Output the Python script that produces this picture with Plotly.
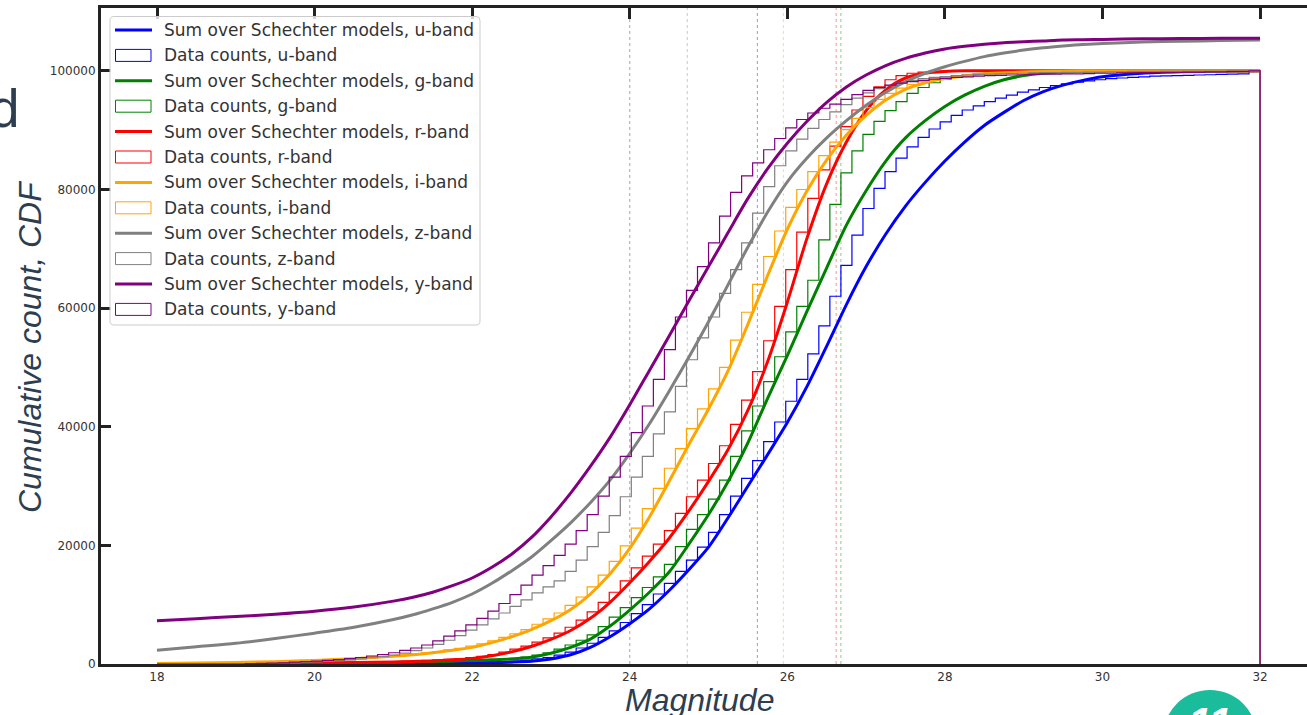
import numpy as np
import plotly.graph_objects as go

# ---------------- data ----------------
bands = ["u", "g", "r", "i", "z", "y"]
band_colors = ["#0000ff", "#008000", "#ff0000", "#ffa500", "#808080", "#800080"]
limit_mags = [25.62, 26.68, 26.62, 25.95, 24.73, 24.0]

mag_grid = [18, 18.5, 19, 19.5, 20, 20.5, 21, 21.25, 21.5, 21.75, 22, 22.25, 22.5, 22.75,
            23, 23.25, 23.5, 23.75, 24, 24.25, 24.5, 24.75, 25, 25.25, 25.5, 25.75, 26,
            26.25, 26.5, 26.75, 27, 27.25, 27.5, 27.75, 28, 28.25, 28.5, 28.75, 29, 29.25,
            29.5, 29.75, 30, 30.5, 31, 31.5, 32]

model_u = [10, 15, 25, 35, 50, 70, 100, 115, 130, 150, 170, 230, 310, 450,
           850, 1550, 2800, 4600, 6800, 9300, 12400, 15900, 19700, 24700, 30000, 35300, 40700,
           46800, 53600, 60600, 67000, 72500, 77200, 81200, 84800, 88000, 90800, 93000, 95000, 96500,
           97600, 98400, 99000, 99600, 99850, 99950, 100000]
model_g = [20, 30, 50, 80, 120, 180, 270, 330, 400, 480, 580, 700, 850, 1150,
           1800, 2800, 4200, 6400, 9100, 12100, 15500, 20200, 25200, 30800, 37300, 44800, 52000,
           59500, 66800, 74000, 79800, 84800, 88700, 91600, 94000, 95900, 97400, 98500, 99200, 99600,
           99800, 99920, 100000, 100000, 100000, 100000, 100000]
model_r = [50, 70, 100, 130, 160, 240, 350, 430, 520, 700, 950, 1400, 2050, 2950,
           4150, 5650, 7700, 10400, 13700, 17300, 21200, 25800, 30800, 36200, 42800, 51000, 61000,
           71800, 81000, 88000, 93300, 96800, 98800, 99600, 99900, 100000, 100000, 100000, 100000, 100000,
           100000, 100000, 100000, 100000, 100000, 100000, 100000]
model_i = [100, 150, 250, 400, 600, 900, 1300, 1550, 1900, 2300, 2800, 3600, 4600, 5800,
           7300, 9200, 11800, 15200, 19500, 24800, 30800, 37000, 43000, 49500, 57300, 65500, 73300,
           79800, 85000, 89200, 92500, 95100, 96900, 98000, 98700, 99150, 99500, 99700, 99800, 99900,
           99950, 100000, 100000, 100000, 100000, 100000, 100000]
model_z = [2300, 2900, 3500, 4300, 5200, 6200, 7500, 8300, 9300, 10400, 11800, 13600, 15700, 18000,
           20800, 23800, 27200, 31000, 35500, 40500, 46000, 51700, 57700, 64000, 70300, 76200, 81300,
           85300, 88700, 91600, 94200, 96400, 98200, 99600, 100700, 101600, 102400, 103000, 103500, 103900,
           104200, 104450, 104600, 104850, 105000, 105100, 105200]
model_y = [7300, 7650, 8000, 8400, 8900, 9600, 10600, 11250, 12100, 13200, 14500, 16300, 18500, 21300,
           24800, 28800, 33300, 38200, 43700, 49500, 55300, 61200, 67000, 72800, 78500, 83500, 87800,
           91500, 94700, 97300, 99300, 100900, 102100, 103000, 103700, 104150, 104500, 104750, 104900, 105050,
           105200, 105250, 105300, 105400, 105450, 105480, 105500]

# cumulative data counts, 100 bins from 18 to 32
hist_u = [0, 0, 0, 0, 0, 0, 0, 0, 0, 0,
          0, 0, 0, 0, 50, 50, 50, 50, 50, 100,
          100, 100, 100, 100, 150, 150, 200, 200, 250, 300,
          350, 400, 500, 650, 850, 1100, 1500, 2000, 2700, 3500,
          4500, 5600, 7000, 8500, 10000, 11800, 13600, 15600, 17500, 19700,
          22200, 25200, 28300, 31300, 34300, 37500, 40800, 44300, 48000, 52300,
          57000, 62000, 67200, 72300, 76800, 80200, 83000, 85300, 87200, 88800,
          90200, 91400, 92500, 93400, 94100, 94800, 95400, 95900, 96400, 96800,
          97200, 97500, 97800, 98100, 98300, 98500, 98700, 98800, 98900, 99000,
          99100, 99150, 99200, 99250, 99300, 99350, 99400, 99450, 99500, 100000]
hist_g = [0, 0, 0, 0, 0, 0, 0, 0, 0, 0,
          0, 50, 50, 100, 100, 150, 150, 200, 200, 250,
          250, 300, 350, 400, 400, 450, 500, 550, 650, 700,
          750, 800, 950, 1150, 1500, 1900, 2500, 3200, 4000, 4900,
          6300, 7900, 9500, 11200, 12900, 14700, 16800, 19800, 22700, 25200,
          27800, 31000, 35000, 39300, 43500, 47600, 51800, 56000, 60300, 64700,
          71500, 77500, 82800, 86500, 89300, 91500, 93300, 94800, 96200, 97200,
          98000, 98600, 99000, 99300, 99500, 99650, 99750, 99850, 99900, 99950,
          100000, 100000, 100000, 100000, 100000, 100000, 100000, 100000, 100000, 100000,
          100000, 100000, 100000, 100000, 100000, 100000, 100000, 100000, 100000, 100000]
hist_r = [0, 0, 0, 0, 0, 0, 0, 0, 0, 50,
          50, 100, 100, 100, 150, 150, 200, 250, 300, 300,
          350, 400, 450, 500, 600, 700, 800, 900, 1100, 1300,
          1600, 2000, 2500, 3000, 3700, 4400, 5200, 6200, 7400, 8800,
          10400, 12100, 14000, 16200, 18200, 20200, 22500, 25400, 28200, 31000,
          33800, 36800, 40400, 44500, 49300, 54500, 60300, 66500, 72800, 78500,
          83300, 87300, 90600, 93400, 95700, 97300, 98500, 99200, 99600, 99800,
          99900, 100000, 100000, 100000, 100000, 100000, 100000, 100000, 100000, 100000,
          100000, 100000, 100000, 100000, 100000, 100000, 100000, 100000, 100000, 100000,
          100000, 100000, 100000, 100000, 100000, 100000, 100000, 100000, 100000, 100000]
hist_i = [0, 0, 0, 0, 0, 100, 100, 100, 200, 200,
          300, 400, 500, 600, 650, 750, 850, 950, 1050, 1150,
          1250, 1400, 1550, 1700, 1900, 2100, 2400, 2650, 3000, 3400,
          3900, 4500, 5100, 5800, 6700, 7600, 8600, 9900, 11300, 13000,
          15000, 17300, 19900, 22900, 26200, 29600, 33000, 36300, 39700, 43000,
          46400, 50000, 54600, 59300, 64000, 68700, 73000, 77000, 80000, 83000,
          85700, 88000, 90100, 92000, 93800, 95200, 96200, 97100, 97700, 98200,
          98600, 98900, 99100, 99300, 99500, 99600, 99700, 99800, 99850, 99900,
          99900, 99950, 100000, 100000, 100000, 100000, 100000, 100000, 100000, 100000,
          100000, 100000, 100000, 100000, 100000, 100000, 100000, 100000, 100000, 100000]
hist_z = [0, 0, 0, 0, 0, 0, 0, 0, 0, 50,
          100, 150, 200, 250, 350, 450, 550, 700, 850, 1050,
          1250, 1500, 1850, 2250, 2700, 3300, 4000, 4800, 5700, 6600,
          7600, 8600, 9700, 10800, 12000, 13000, 14000, 15600, 17500, 19800,
          22200, 25000, 28200, 31500, 35000, 38800, 42500, 46800, 51300, 55000,
          58500, 62500, 66500, 71000, 76000, 80500, 84000, 86500, 88500, 90300,
          91800, 93100, 94300, 95400, 96300, 97000, 97500, 98000, 98400, 98700,
          98900, 99050, 99200, 99300, 99400, 99450, 99500, 99550, 99600, 99650,
          99700, 99700, 99750, 99750, 99800, 99800, 99850, 99850, 99900, 99900,
          99900, 99950, 99950, 99950, 99950, 99950, 99950, 99950, 99950, 100000]
hist_y = [0, 0, 0, 0, 0, 0, 0, 0, 50, 100,
          150, 200, 300, 400, 500, 600, 750, 900, 1100, 1350,
          1600, 1900, 2300, 2700, 3200, 3900, 4700, 5600, 6600, 7700,
          8900, 10200, 11700, 13300, 15000, 16600, 18300, 20200, 22500, 25200,
          28300, 31500, 35000, 39000, 43500, 48000, 53000, 58500, 63000, 67000,
          71000, 75500, 79500, 82300, 84500, 86700, 88600, 90400, 91800, 92900,
          93700, 94400, 95200, 96000, 96700, 97200, 97600, 97950, 98200, 98400,
          98600, 98750, 98900, 99000, 99100, 99200, 99250, 99300, 99350, 99400,
          99450, 99450, 99500, 99500, 99550, 99600, 99600, 99650, 99650, 99700,
          99700, 99750, 99750, 99800, 99800, 99850, 99850, 99900, 99900, 100000]

models = [model_u, model_g, model_r, model_i, model_z, model_y]
hists = [hist_u, hist_g, hist_r, hist_i, hist_z, hist_y]
bin_edges = np.linspace(18, 32, 101)

x_ticks = [18, 20, 22, 24, 26, 28, 30, 32]
y_ticks = [0, 20000, 40000, 60000, 80000, 100000]

# ---------------- layout geometry (pixels) ----------------
W, H = 1307, 715
L, R, T, B = 101, 1307, 8, 664


def xp(px):
    return (px - L) / (R - L)


def yp(py):
    return (B - py) / (B - T)


TITLE_COLOR = "#2c3e50"
TEXT_COLOR = "#333333"
AX_COLOR = "#222222"

fig = go.Figure()

# vertical limit lines
shapes = []
for lim, col in zip(limit_mags, band_colors):
    shapes.append(dict(type="line", xref="x", yref="paper", x0=lim, x1=lim, y0=0, y1=1,
                       line=dict(color=col, width=1, dash="dot"), opacity=0.42, layer="below"))

for b, col, mod, hst in zip(bands, band_colors, models, hists):
    fig.add_trace(go.Scatter(x=mag_grid, y=mod, mode="lines",
                             line=dict(color=col, width=3, shape="spline", smoothing=0.8),
                             showlegend=False, hoverinfo="skip"))
    xs = [bin_edges[0]] + list(bin_edges[:-1]) + [bin_edges[-1], bin_edges[-1]]
    ys = [0] + list(hst) + [hst[-1], 0]
    fig.add_trace(go.Scatter(x=xs, y=ys, mode="lines",
                             line=dict(color=col, width=1.2, shape="hv"),
                             showlegend=False, hoverinfo="skip"))

# dummy trace for the top axis
fig.add_trace(go.Scatter(x=[None], y=[None], xaxis="x2", showlegend=False, hoverinfo="skip"))


# ---------------- manual legend ----------------
def rounded_rect_path(x0, y0, x1, y1, r):
    def P(px, py):
        return f"{xp(px):.5f},{yp(py):.5f}"
    return (f"M {P(x0 + r, y0)} L {P(x1 - r, y0)} Q {P(x1, y0)} {P(x1, y0 + r)} "
            f"L {P(x1, y1 - r)} Q {P(x1, y1)} {P(x1 - r, y1)} L {P(x0 + r, y1)} "
            f"Q {P(x0, y1)} {P(x0, y1 - r)} L {P(x0, y0 + r)} Q {P(x0, y0)} {P(x0 + r, y0)} Z")


shapes.append(dict(type="path", xref="paper", yref="paper",
                   path=rounded_rect_path(110, 16.5, 480, 325, 4),
                   fillcolor="rgba(255,255,255,0.8)", line=dict(color="#cccccc", width=1),
                   layer="above"))

annotations = []
row0, pitch = 30.0, 25.4
k = 0
for b, col in zip(bands, band_colors):
    for kind in ("model", "data"):
        yc = row0 + pitch * k
        if kind == "model":
            shapes.append(dict(type="line", xref="paper", yref="paper",
                               x0=xp(115), x1=xp(152), y0=yp(yc), y1=yp(yc),
                               line=dict(color=col, width=3), layer="above"))
            label = f"Sum over Schechter models, {b}-band"
        else:
            shapes.append(dict(type="rect", xref="paper", yref="paper",
                               x0=xp(115.5), x1=xp(151), y0=yp(yc + 6), y1=yp(yc - 6),
                               line=dict(color=col, width=1), fillcolor="rgba(0,0,0,0)",
                               layer="above"))
            label = f"Data counts, {b}-band"
        annotations.append(dict(text=label, xref="paper", yref="paper", x=xp(162), y=yp(yc),
                                xanchor="left", yanchor="middle", showarrow=False,
                                font=dict(family="DejaVu Sans", size=17, color=TEXT_COLOR)))
        k += 1

# axis titles
annotations.append(dict(text="<i>Cumulative count, CDF</i>", xref="paper", yref="paper",
                        x=xp(30), y=yp(347), xanchor="center", yanchor="middle",
                        textangle=-90, showarrow=False,
                        font=dict(family="Liberation Sans", size=32, color=TITLE_COLOR)))
annotations.append(dict(text="<i>Magnitude</i>", xref="paper", yref="paper",
                        x=xp(699), y=yp(700), xanchor="center", yanchor="middle",
                        showarrow=False,
                        font=dict(family="Liberation Sans", size=32, color=TITLE_COLOR)))
# slide fragments
annotations.append(dict(text="d", xref="paper", yref="paper", x=xp(21), y=yp(109),
                        xanchor="right", yanchor="middle", showarrow=False,
                        font=dict(family="Liberation Sans", size=53, color=TITLE_COLOR)))
shapes.append(dict(type="circle", xref="paper", yref="paper",
                   x0=xp(1163), x1=xp(1257), y0=yp(784), y1=yp(690),
                   fillcolor="#1abc9c", line=dict(width=0), layer="above"))
annotations.append(dict(text="<b><i>11</i></b>", xref="paper", yref="paper", x=xp(1210), y=yp(722),
                        xanchor="center", yanchor="middle", showarrow=False,
                        font=dict(family="Liberation Sans", size=42, color="white")))

tick_font = dict(family="DejaVu Sans", size=12, color=TEXT_COLOR)
xr = [18 - 56 / 78.79, 18 + 1150 / 78.79]

fig.update_layout(
    width=W, height=H,
    margin=dict(l=L, r=W - R, t=T, b=H - B, pad=0),
    paper_bgcolor="white", plot_bgcolor="white",
    showlegend=False,
    shapes=shapes, annotations=annotations,
    xaxis=dict(range=xr, tickvals=x_ticks, ticktext=[str(v) for v in x_ticks],
               showline=True, linewidth=3, linecolor=AX_COLOR, ticks="",
               showgrid=False, zeroline=False, tickfont=tick_font, fixedrange=True),
    xaxis2=dict(range=xr, overlaying="x", side="top", tickvals=x_ticks,
                showline=True, linewidth=3, linecolor=AX_COLOR, ticks="inside",
                ticklen=11, tickwidth=3, tickcolor=AX_COLOR, showticklabels=False,
                showgrid=False, zeroline=False),
    yaxis=dict(range=[0, 110600], tickvals=y_ticks, ticktext=[str(v) for v in y_ticks],
               showline=True, linewidth=3, linecolor=AX_COLOR, ticks="inside",
               ticklen=10, tickwidth=3, tickcolor=AX_COLOR,
               showgrid=False, zeroline=False, tickfont=tick_font),
)

fig.write_html("out.html", config={"displayModeBar": False})
